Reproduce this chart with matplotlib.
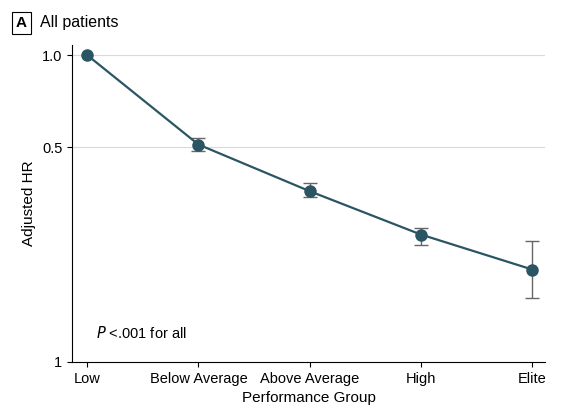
import matplotlib
matplotlib.use("Agg")
import matplotlib.pyplot as plt
import numpy as np

groups = ["Low", "Below Average", "Above Average", "High", "Elite"]
hr = [1.0, 0.511, 0.36, 0.26, 0.20]
lo = [1.0, 0.485, 0.344, 0.241, 0.161]
hi = [1.0, 0.535, 0.383, 0.274, 0.247]
yticks = [0.1, 0.5, 1.0]
yticklabels = ["1", "0.5", "1.0"]

plt.rcParams['font.family'] = ['Liberation Sans', 'DejaVu Sans']
fig = plt.figure(figsize=(5.68, 4.15), dpi=100)
ax = fig.add_axes([0.127, 0.128, 0.833, 0.764])
c = "#2b5563"
x = np.arange(len(groups))
hr_a = np.array(hr)
yerr = [hr_a - np.array(lo), np.array(hi) - hr_a]
ax.errorbar(x[1:], hr_a[1:], yerr=[yerr[0][1:], yerr[1][1:]], fmt="none",
            ecolor="#666666", elinewidth=1, capsize=5, capthick=1, zorder=2)
ax.plot(x, hr, color=c, lw=1.6, marker="o", ms=8, zorder=3)
ax.set_yscale("log")
ax.set_ylim(0.1, 1.08)
ax.set_xlim(-0.135, 4.117)
ax.set_yticks(yticks)
ax.set_yticklabels(yticklabels)
ax.minorticks_off()
ax.set_xticks(x)
ax.set_xticklabels(groups)
for v in [0.5, 1.0]:
    ax.axhline(v, color="#d9d9d9", lw=0.8, zorder=0)
for s in ["top", "right"]:
    ax.spines[s].set_visible(False)
ax.tick_params(labelsize=10.5)
ax.set_xlabel("Performance Group", fontsize=11)
ax.set_ylabel("Adjusted HR", fontsize=11)
ax.text(0.05, 0.075, r"$\it{P}$ <.001 for all", transform=ax.transAxes, fontsize=10.5)
fig.text(0.028, 0.945, "A", fontsize=11, weight="bold", va="center",
         bbox=dict(boxstyle="square,pad=0.25", fc="white", ec="black", lw=0.8))
fig.text(0.07, 0.945, "All patients", fontsize=11.5, va="center")
fig.savefig("out.png", dpi=100)
